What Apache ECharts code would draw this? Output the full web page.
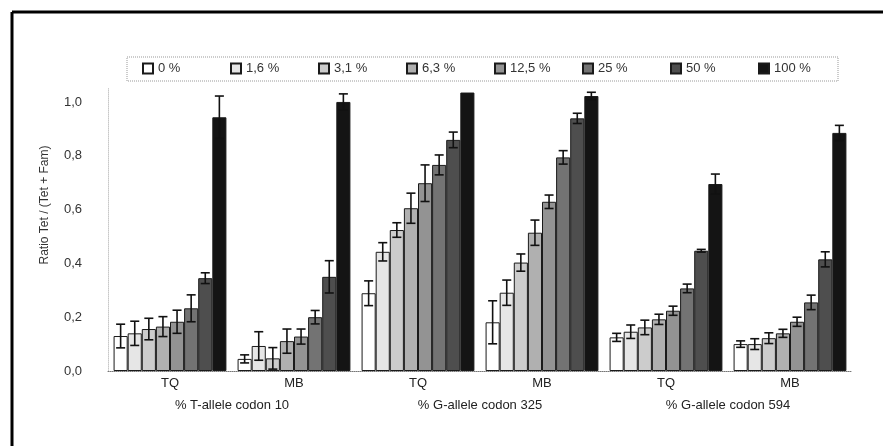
<!DOCTYPE html>
<html>
<head>
<meta charset="utf-8">
<script src="https://cdn.jsdelivr.net/npm/echarts@6/dist/echarts.min.js"></script>
<style>
html,body{margin:0;padding:0;background:#fff;}
#chart{width:883px;height:446px;}
</style>
</head>
<body>
<div id="chart"></div>
<script>
// ---- data ----
var categories = ['TQ', 'MB', 'TQ', 'MB', 'TQ', 'MB'];
var groupLabels = ['% T-allele codon 10', '% G-allele codon 325', '% G-allele codon 594'];
var seriesNames = ['0 %', '1,6 %', '3,1 %', '6,3 %', '12,5 %', '25 %', '50 %', '100 %'];
var yTicks = [0, 0.2, 0.4, 0.6, 0.8, 1.0];

var mean0   = [0.130, 0.045, 0.289, 0.181, 0.125, 0.100];
var mean1_6 = [0.140, 0.093, 0.443, 0.291, 0.146, 0.100];
var mean3_1 = [0.156, 0.047, 0.524, 0.403, 0.162, 0.122];
var mean6_3 = [0.165, 0.111, 0.605, 0.514, 0.192, 0.140];
var mean12_5= [0.183, 0.128, 0.698, 0.629, 0.224, 0.183];
var mean25  = [0.233, 0.200, 0.766, 0.794, 0.307, 0.255];
var mean50  = [0.345, 0.350, 0.859, 0.939, 0.447, 0.415];
var mean100 = [0.943, 1.000, 1.035, 1.022, 0.695, 0.885];

var err0    = [0.044, 0.015, 0.046, 0.080, 0.015, 0.012];
var err1_6  = [0.045, 0.053, 0.034, 0.047, 0.025, 0.020];
var err3_1  = [0.040, 0.040, 0.027, 0.032, 0.027, 0.020];
var err6_3  = [0.037, 0.045, 0.056, 0.047, 0.019, 0.015];
var err12_5 = [0.043, 0.028, 0.068, 0.025, 0.017, 0.017];
var err25   = [0.050, 0.025, 0.037, 0.025, 0.016, 0.027];
var err50   = [0.020, 0.060, 0.029, 0.019, 0.005, 0.028];
var err100  = [0.079, 0.030, 0.000, 0.014, 0.037, 0.028];

var means = [mean0, mean1_6, mean3_1, mean6_3, mean12_5, mean25, mean50, mean100];
var errs  = [err0, err1_6, err3_1, err6_3, err12_5, err25, err50, err100];
var colors = ['#ffffff', '#e6e6e6', '#cccccc', '#b0b0b0', '#939393', '#737373', '#4e4e4e', '#141414'];

// ---- build ----
var CAT_GAP = 0.09;
var FONT = 'Liberation Sans, Arial, sans-serif';
var chart = echarts.init(document.getElementById('chart'));

var series = [];
seriesNames.forEach(function (n, i) {
  series.push({
    name: n, type: 'bar', data: means[i],
    barGap: '0%', barCategoryGap: (CAT_GAP * 100) + '%',
    itemStyle: { color: colors[i], borderColor: '#1a1a1a', borderWidth: 1 },
    z: 2
  });
});

var errData = [];
for (var s = 0; s < means.length; s++) {
  for (var c = 0; c < categories.length; c++) {
    errData.push([c, s, means[s][c], errs[s][c]]);
  }
}
series.push({
  name: 'err', type: 'custom', z: 5,
  encode: { x: 0, y: 2 },
  data: errData,
  renderItem: function (params, api) {
    var cat = api.value(0), si = api.value(1), m = api.value(2), e = api.value(3);
    var band = api.size([1, 0])[0];
    var inner = band * (1 - CAT_GAP);
    var bw = inner / seriesNames.length;
    var cx = api.coord([cat, m])[0] - inner / 2 + bw * (si + 0.5);
    var yTop = api.coord([cat, m + e])[1];
    var yBot = api.coord([cat, Math.max(0, m - e)])[1];
    var half = bw * 0.32;
    var st = { stroke: '#111', lineWidth: 1.6 };
    if (e <= 0) return { type: 'group', children: [] };
    return {
      type: 'group',
      children: [
        { type: 'line', shape: { x1: cx, y1: yTop, x2: cx, y2: yBot }, style: st },
        { type: 'line', shape: { x1: cx - half, y1: yTop, x2: cx + half, y2: yTop }, style: st },
        { type: 'line', shape: { x1: cx - half, y1: yBot, x2: cx + half, y2: yBot }, style: st }
      ]
    };
  }
});

var legends = seriesNames.map(function (n, i) {
  return {
    data: [n],
    left: 142 + i * 88, top: 62, padding: 0,
    itemWidth: 10, itemHeight: 10,
    icon: 'rect',
    textStyle: { fontFamily: FONT, fontSize: 13, color: '#333' }
  };
});

chart.setOption({
  animation: false,
  backgroundColor: '#fff',
  textStyle: { fontFamily: FONT },
  grid: { left: 108, right: 31, top: 88.5, bottom: 75, containLabel: false },
  legend: legends,
  xAxis: [{
    type: 'category', data: categories,
    axisLine: { lineStyle: { color: '#777', type: 'dotted', width: 1 } },
    axisTick: { show: false },
    axisLabel: { fontFamily: FONT, fontSize: 13, color: '#222', margin: 6 }
  }, {
    type: 'category', data: groupLabels, position: 'bottom', offset: 22,
    axisLine: { show: false }, axisTick: { show: false },
    axisLabel: { fontFamily: FONT, fontSize: 13, color: '#222', margin: 6 }
  }],
  yAxis: {
    type: 'value', min: 0, max: 1.05, interval: 0.2,
    splitLine: { show: false },
    axisLine: { show: true, lineStyle: { color: '#c8c8c8', type: 'dotted' } },
    axisTick: { show: false },
    axisLabel: {
      fontFamily: FONT, fontSize: 13, color: '#333', margin: 26,
      showMaxLabel: false,
      formatter: function (v) {
        for (var k = 0; k < yTicks.length; k++) {
          if (Math.abs(v - yTicks[k]) < 1e-6) return yTicks[k].toFixed(1).replace('.', ',');
        }
        return '';
      }
    }
  },
  graphic: [
    { type: 'line', shape: { x1: 12, y1: 12, x2: 883, y2: 12 }, style: { stroke: '#000', lineWidth: 3 } },
    { type: 'line', shape: { x1: 12, y1: 12, x2: 12, y2: 446 }, style: { stroke: '#000', lineWidth: 3 } },
    { type: 'rect', shape: { x: 127, y: 57, width: 711, height: 24 },
      style: { fill: 'none', stroke: '#999', lineWidth: 1, lineDash: [1, 1] }, z: -1 },
    { type: 'text', x: 45, y: 205, rotation: Math.PI / 2,
      style: { text: 'Ratio Tet / (Tet + Fam)', fontFamily: FONT, fontSize: 12, fill: '#333',
               textAlign: 'center', textVerticalAlign: 'middle' } }
  ],
  series: series
});
</script>
</body>
</html>
